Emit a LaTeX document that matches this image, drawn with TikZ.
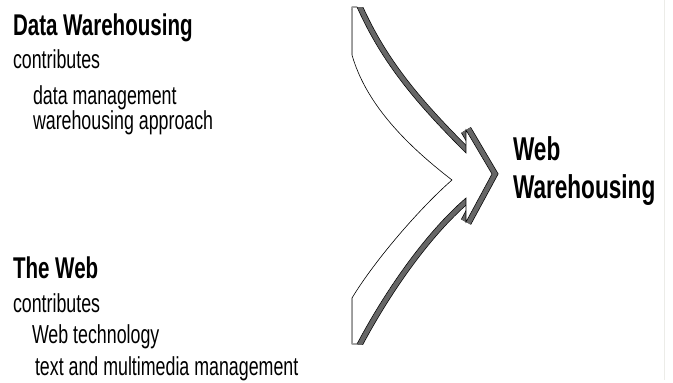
\documentclass[tikz,border=0pt]{standalone}
\usepackage{fontspec}
\setmainfont{Liberation Sans}
\usepackage{graphicx}
\newcommand{\narrow}[1]{\scalebox{0.685}[1]{#1}}
\definecolor{shade}{HTML}{666666}
\definecolor{edgeline}{HTML}{ECECE8}
\definecolor{softedge}{HTML}{9A9A9A}
\tikzset{
  lbl/.style={anchor=base west, inner sep=0pt, outer sep=0pt, font=\fontsize{26}{26}\selectfont},
  head/.style={anchor=base west, inner sep=0pt, outer sep=0pt, font=\fontsize{30}{30}\selectfont\bfseries},
  bighead/.style={anchor=base west, inner sep=0pt, outer sep=0pt, font=\fontsize{33}{33}\selectfont\bfseries},
  band/.style={draw=black, line width=0.7pt, double=shade, double distance=10pt, line join=miter, line cap=butt},
  face/.style={fill=white, draw=black, line width=0.6pt, line join=miter},
  softline/.style={draw=softedge, line width=0.6pt}
}
\begin{document}
\begin{tikzpicture}[x=1pt, y=-1pt]
\useasboundingbox (0,0) rectangle (673,383);
% faint right border line
\draw[edgeline, line width=1pt] (664,0) -- (664,380);
% arrow outline points
\coordinate (A) at (352,7);
\coordinate (A2) at (357,7);
\coordinate (J) at (466,153);
\coordinate (I) at (466,130);
\coordinate (H) at (492,174);
\coordinate (G) at (466,222);
\coordinate (F) at (466,198);
\coordinate (E2) at (357,344);
\coordinate (E) at (352,344);
\coordinate (D) at (352,298);
\coordinate (C) at (452,180);
\coordinate (B) at (352,55);
% shaded side bands (3D edge)
\begin{scope}
\clip (340,7) rectangle (520,344);
\draw[band] (A2) .. controls (383,65) and (418,105) .. (J);
\draw[band] (I) -- (H) -- (G);
\draw[band] (F) .. controls (423,235) and (383,295) .. (E2);
\end{scope}
% front face
\draw[face] (A) -- (A2) .. controls (383,65) and (418,105) .. (J) -- (I) -- (H) -- (G) -- (F)
  .. controls (423,235) and (383,295) .. (E2) -- (E) -- (D)
  .. controls (375,260) and (420,208) .. (C)
  .. controls (400,140) and (365,100) .. (B) -- cycle;
% lighter left edges
\draw[softline] (A) -- (B);
\draw[softline] (D) -- (E);
% texts
\node[head] (dw) at (13,35) {\narrow{Data Warehousing}};
\node[lbl] (dwc) at (13,68) {\narrow{contributes}};
\node[lbl] (dw1) at (33,104) {\narrow{data management}};
\node[lbl] (dw2) at (33,129) {\narrow{warehousing approach}};
\node[head] (tw) at (13,278) {\narrow{The Web}};
\node[lbl] (twc) at (13,312) {\narrow{contributes}};
\node[lbl] (tw1) at (32,343) {\narrow{Web technology}};
\node[lbl] (tw2) at (35,375) {\narrow{text and multimedia management}};
\node[bighead] (ww1) at (513,160) {\narrow{Web}};
\node[bighead] (ww2) at (513,198) {\narrow{Warehousing}};
\end{tikzpicture}
\end{document}
